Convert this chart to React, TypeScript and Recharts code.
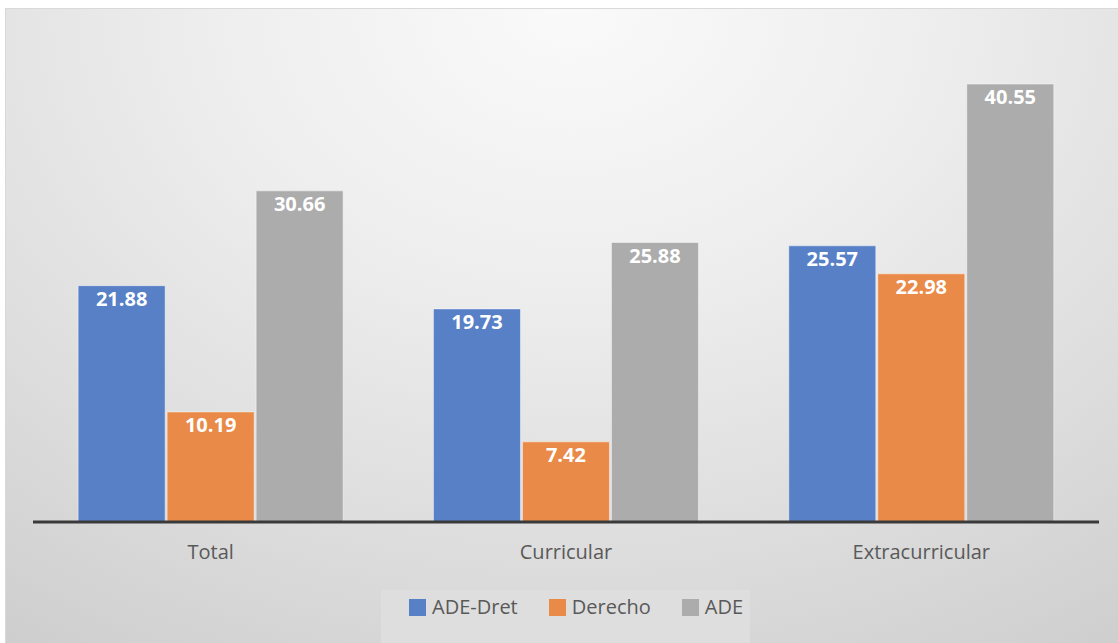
import React from "react";
import { Bar, BarChart, LabelList, XAxis, YAxis } from "recharts";

const categories = ["Total", "Curricular", "Extracurricular"];
const adeDret = [21.88, 19.73, 25.57];
const derecho = [10.19, 7.42, 22.98];
const ade = [30.66, 25.88, 40.55];

const seriesKeys = ["adeDret", "derecho", "ade"];
const seriesNames = ["ADE-Dret", "Derecho", "ADE"];
const seriesColors = ["#5780c7", "#e98a48", "#acacac"];

const FONT = "'Open Sans', 'Noto Sans', sans-serif";

const chartData = categories.map((name, i) => ({
  name,
  adeDret: adeDret[i],
  derecho: derecho[i],
  ade: ade[i]
}));

// legend box sits under the axis and is cut off on the right, like the original export
function LegendBox() {
  return (
    <div
      style={{
        position: "absolute",
        left: 381,
        top: 590,
        width: 369,
        height: 60,
        overflow: "hidden",
        background: "#dedede",
        display: "flex",
        alignItems: "flex-start",
        paddingTop: 7,
        paddingLeft: 28,
        boxSizing: "border-box",
        whiteSpace: "nowrap"
      }}
    >
      {seriesNames.map((name, i) => (
        <div key={name} style={{ display: "flex", alignItems: "center", marginRight: 31 }}>
          <span
            style={{
              width: 17,
              height: 17,
              background: seriesColors[i],
              display: "inline-block",
              marginRight: 6,
              flexShrink: 0
            }}
          />
          <span style={{ fontFamily: FONT, fontSize: 20, color: "#595959", lineHeight: "20px" }}>
            {name}
          </span>
        </div>
      ))}
    </div>
  );
}

export default function App() {
  return (
    <div
      style={{
        position: "fixed",
        left: 0,
        top: 0,
        width: 1118,
        height: 643,
        background: "#ffffff",
        overflow: "hidden"
      }}
    >
      <div
        style={{
          position: "absolute",
          left: 5,
          top: 8,
          width: 1130,
          height: 650,
          border: "1px solid #d9d9d9",
          background:
            "radial-gradient(ellipse 90% 120% at 50% 0%, #fafafa 0%, #eeeeee 35%, #dddddd 70%, #cdcdcd 100%)"
        }}
      />
      <div style={{ position: "absolute", left: 0, top: 0 }}>
        <BarChart
          width={1118}
          height={643}
          data={chartData}
          margin={{ top: 36, right: 19, left: 33, bottom: 81 }}
          barCategoryGap="12.7%"
          barGap={2}
        >
          <XAxis
            dataKey="name"
            height={40}
            tickLine={false}
            axisLine={{ stroke: "#3a3a3a", strokeWidth: 3 }}
            tick={{ fill: "#595959", fontSize: 20, fontFamily: FONT }}
            tickMargin={17}
          />
          <YAxis hide domain={[0, 45]} />
          {seriesKeys.map((k, i) => (
            <Bar
              key={k}
              dataKey={k}
              name={seriesNames[i]}
              fill={seriesColors[i]}
              stroke="rgba(255,255,255,0.45)"
              strokeWidth={1}
              isAnimationActive={false}
            >
              <LabelList
                dataKey={k}
                position="insideTop"
                offset={6}
                fill="#ffffff"
                fontSize={20}
                fontWeight="bold"
                fontFamily={FONT}
                formatter={(v: any) => Number(v).toFixed(2)}
              />
            </Bar>
          ))}
        </BarChart>
      </div>
      <LegendBox />
    </div>
  );
}
